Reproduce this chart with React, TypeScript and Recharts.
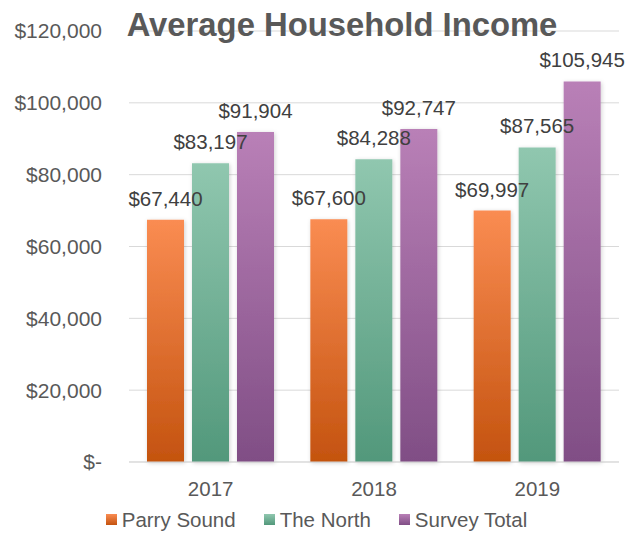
import React from 'react'
import { BarChart, Bar, XAxis, YAxis, CartesianGrid, Legend, LabelList } from 'recharts'

const years = ['2017', '2018', '2019']
const parrySound = [67440, 67600, 69997]
const theNorth = [83197, 84288, 87565]
const surveyTotal = [91904, 92747, 105945]
const yTicks = [0, 20000, 40000, 60000, 80000, 100000, 120000]

const data = years.map((year, i) => ({
  year,
  parry: parrySound[i],
  north: theNorth[i],
  total: surveyTotal[i],
}))

const series = [
  { key: 'parry', name: 'Parry Sound', top: '#FA8C52', bottom: '#C4530F' },
  { key: 'north', name: 'The North', top: '#90C7AF', bottom: '#52987B' },
  { key: 'total', name: 'Survey Total', top: '#B980B7', bottom: '#804E85' },
]

const font = '"Liberation Sans", Arial, sans-serif'
const textColor = '#595959'

const money = (v: number) => (v === 0 ? '$-' : '$' + v.toLocaleString('en-US'))

const LegendContent = () => (
  <div style={{ display: 'flex', justifyContent: 'center', paddingLeft: 14, height: 27, fontFamily: font, fontSize: 20.5, color: textColor, lineHeight: '24px' }}>
    {series.map((s, i) => (
      <div key={s.key} style={{ display: 'flex', alignItems: 'center', marginRight: i < series.length - 1 ? 28 : 0 }}>
        <span style={{ width: 11, height: 11, marginRight: 5, background: `linear-gradient(${s.top}, ${s.bottom})` }} />
        <span>{s.name}</span>
      </div>
    ))}
  </div>
)

export default function App() {
  return (
    <div style={{ position: 'absolute', left: 0, top: 0, width: 628, height: 533, background: '#fff' }}>
      <BarChart width={628} height={533} data={data} margin={{ top: 31, right: 9, left: 0, bottom: 0 }} barSize={37} barGap={8}>
        <defs>
          {series.map((s) => (
            <linearGradient key={s.key} id={'grad-' + s.key} x1="0" y1="0" x2="0" y2="1">
              <stop offset="0%" stopColor={s.top} />
              <stop offset="100%" stopColor={s.bottom} />
            </linearGradient>
          ))}
          <filter id="barShadow" x="-20%" y="-5%" width="140%" height="110%">
            <feDropShadow dx="1" dy="1" stdDeviation="2" floodColor="#000" floodOpacity="0.18" />
          </filter>
        </defs>
        <CartesianGrid vertical={false} stroke="#D9D9D9" />
        <XAxis
          dataKey="year"
          height={44}
          axisLine={{ stroke: '#D9D9D9' }}
          tickLine={false}
          tickMargin={13}
          tick={{ fontSize: 20.5, fill: textColor, fontFamily: font }}
        />
        <YAxis
          width={129}
          domain={[0, 120000]}
          ticks={yTicks}
          tickFormatter={money}
          axisLine={false}
          tickLine={false}
          tickMargin={21}
          tick={{ fontSize: 21, fill: textColor, fontFamily: font }}
        />
        <Legend verticalAlign="bottom" content={<LegendContent />} />
        {series.map((s) => (
          <Bar key={s.key} dataKey={s.key} name={s.name} fill={`url(#grad-${s.key})`} style={{ filter: 'url(#barShadow)' }} isAnimationActive={false}>
            <LabelList dataKey={s.key} position="top" offset={14} formatter={(v: any) => money(Number(v))} style={{ fontSize: 20.5, fill: '#404040', fontFamily: font, filter: 'none' }} />
          </Bar>
        ))}
      </BarChart>
      <div style={{ position: 'absolute', left: 342, top: 9, transform: 'translateX(-50%)', whiteSpace: 'nowrap', fontFamily: font, fontWeight: 'bold', fontSize: 32.8, lineHeight: '32px', color: textColor }}>
        Average Household Income
      </div>
    </div>
  )
}
